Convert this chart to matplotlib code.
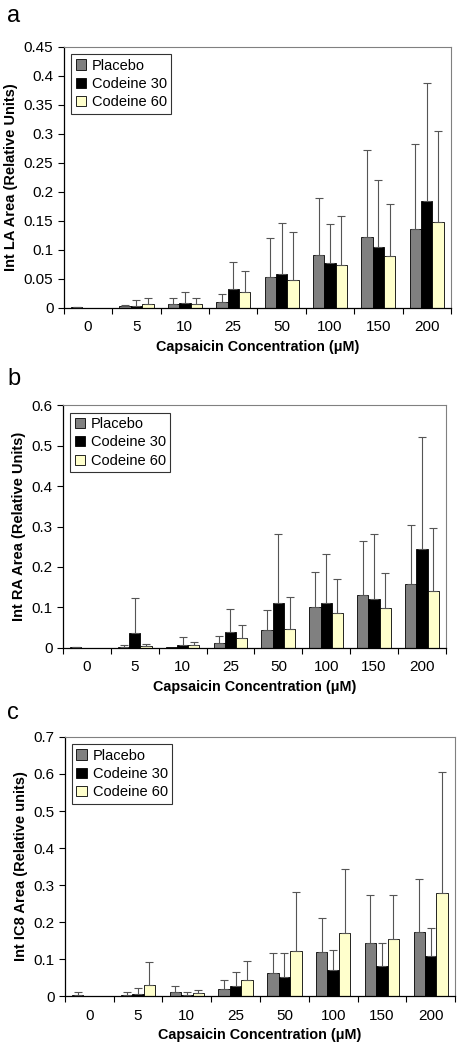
import numpy as np
import matplotlib
matplotlib.use("Agg")
import matplotlib.pyplot as plt
from matplotlib.ticker import FuncFormatter

plt.rcParams['font.family'] = ['Liberation Sans', 'DejaVu Sans']

concentrations = ['0', '5', '10', '25', '50', '100', '150', '200']
groups = ['Placebo', 'Codeine 30', 'Codeine 60']

# panel a: Int LA area (means and tops of the error bars)
la_placebo = [0.001, 0.003, 0.006, 0.011, 0.053, 0.092, 0.122, 0.136]
la_placebo_top = [0.002, 0.005, 0.018, 0.024, 0.120, 0.189, 0.272, 0.282]
la_cod30 = [0.0, 0.004, 0.009, 0.033, 0.058, 0.078, 0.105, 0.185]
la_cod30_top = [0.0, 0.014, 0.028, 0.080, 0.147, 0.144, 0.220, 0.387]
la_cod60 = [0.0, 0.007, 0.007, 0.027, 0.048, 0.074, 0.089, 0.149]
la_cod60_top = [0.0, 0.017, 0.018, 0.063, 0.131, 0.158, 0.179, 0.305]

# panel b: Int RA area
ra_placebo = [0.001, 0.003, 0.002, 0.012, 0.045, 0.100, 0.130, 0.157]
ra_placebo_top = [0.002, 0.007, 0.002, 0.030, 0.093, 0.188, 0.265, 0.304]
ra_cod30 = [0.0, 0.036, 0.007, 0.038, 0.110, 0.110, 0.122, 0.245]
ra_cod30_top = [0.0, 0.124, 0.026, 0.097, 0.281, 0.233, 0.281, 0.521]
ra_cod60 = [0.0, 0.004, 0.006, 0.024, 0.047, 0.085, 0.098, 0.140]
ra_cod60_top = [0.0, 0.010, 0.015, 0.057, 0.126, 0.170, 0.186, 0.296]

# panel c: Int IC8 area
ic_placebo = [0.002, 0.004, 0.011, 0.020, 0.062, 0.118, 0.142, 0.174]
ic_placebo_top = [0.010, 0.010, 0.028, 0.044, 0.117, 0.212, 0.274, 0.316]
ic_cod30 = [0.0, 0.006, 0.004, 0.027, 0.051, 0.071, 0.080, 0.109]
ic_cod30_top = [0.0, 0.022, 0.012, 0.064, 0.117, 0.124, 0.142, 0.185]
ic_cod60 = [0.0, 0.029, 0.009, 0.044, 0.122, 0.171, 0.153, 0.278]
ic_cod60_top = [0.0, 0.093, 0.016, 0.095, 0.282, 0.344, 0.274, 0.605]

colors = ['#808080', '#000000', '#FFFFCC']

# letter, axes rect, letter y (fig fraction), y label, y max, y step, series
panels = [
    ('a', [0.138, 0.7067, 0.836, 0.2486], 0.985, 'Int LA Area (Relative Units)', 0.45, 0.05,
     [(la_placebo, la_placebo_top), (la_cod30, la_cod30_top), (la_cod60, la_cod60_top)]),
    ('b', [0.136, 0.383, 0.827, 0.231], 0.639, 'Int RA Area (Relative Units)', 0.6, 0.1,
     [(ra_placebo, ra_placebo_top), (ra_cod30, ra_cod30_top), (ra_cod60, ra_cod60_top)]),
    ('c', [0.140, 0.0514, 0.843, 0.2467], 0.321, 'Int IC8 Area (Relative units)', 0.7, 0.1,
     [(ic_placebo, ic_placebo_top), (ic_cod30, ic_cod30_top), (ic_cod60, ic_cod60_top)]),
]


def fmt_tick(v, pos):
    if abs(v) < 1e-9:
        return '0'
    return ('%.2f' % v).rstrip('0').rstrip('.')


fig = plt.figure(figsize=(4.63, 10.5), dpi=100)
x = np.arange(len(concentrations))
w = 0.235

for letter, rect, ly, ylabel, ymax, ystep, series in panels:
    ax = fig.add_axes(rect)
    for i, (vals, tops) in enumerate(series):
        vals = np.array(vals)
        err = np.clip(np.array(tops) - vals, 0, None)
        lw = np.where(vals > 0, 0.6, 0.0)
        xs = x + (i - 1) * w
        ax.bar(xs, vals, width=w, color=colors[i], edgecolor='black',
               linewidth=lw, label=groups[i], zorder=2)
        m = err > 0
        ax.errorbar(xs[m], vals[m], yerr=[np.zeros(m.sum()), err[m]], fmt='none',
                    ecolor='#555555', elinewidth=0.8, capsize=3, capthick=0.8, zorder=3)
    ax.set_xlim(-0.5, len(concentrations) - 0.5)
    ax.set_ylim(0, ymax)
    ax.set_yticks(np.arange(0, ymax + ystep / 2, ystep))
    ax.yaxis.set_major_formatter(FuncFormatter(fmt_tick))
    ax.set_xticks(x)
    ax.set_xticklabels(concentrations)
    ax.set_xticks(np.arange(-0.5, len(concentrations)), minor=True)
    ax.tick_params(axis='x', which='major', length=0, labelsize=11, pad=9)
    ax.tick_params(axis='x', which='minor', length=4, direction='out', width=0.8)
    ax.tick_params(axis='y', length=4, direction='out', width=0.8, labelsize=11)
    for s in ['top', 'right']:
        ax.spines[s].set_color('#808080')
        ax.spines[s].set_linewidth(0.8)
    for s in ['left', 'bottom']:
        ax.spines[s].set_linewidth(0.9)
    ax.set_ylabel(ylabel, fontsize=10.5, fontweight='bold', labelpad=4)
    ax.set_xlabel('Capsaicin Concentration (\u03bcM)', fontsize=10.4, fontweight='bold', labelpad=4)
    leg = ax.legend(loc='upper left', fontsize=10.5, frameon=True, fancybox=False,
                    handlelength=0.7, handleheight=0.7, handletextpad=0.4,
                    borderpad=0.3, labelspacing=0.3, borderaxespad=0.5)
    leg.get_frame().set_edgecolor('black')
    leg.get_frame().set_linewidth(0.8)
    for h in leg.legend_handles:
        h.set_linewidth(0.6)
    fig.text(0.015, ly, letter, fontsize=17, va='center', ha='left')

fig.savefig('out.png', dpi=100)
